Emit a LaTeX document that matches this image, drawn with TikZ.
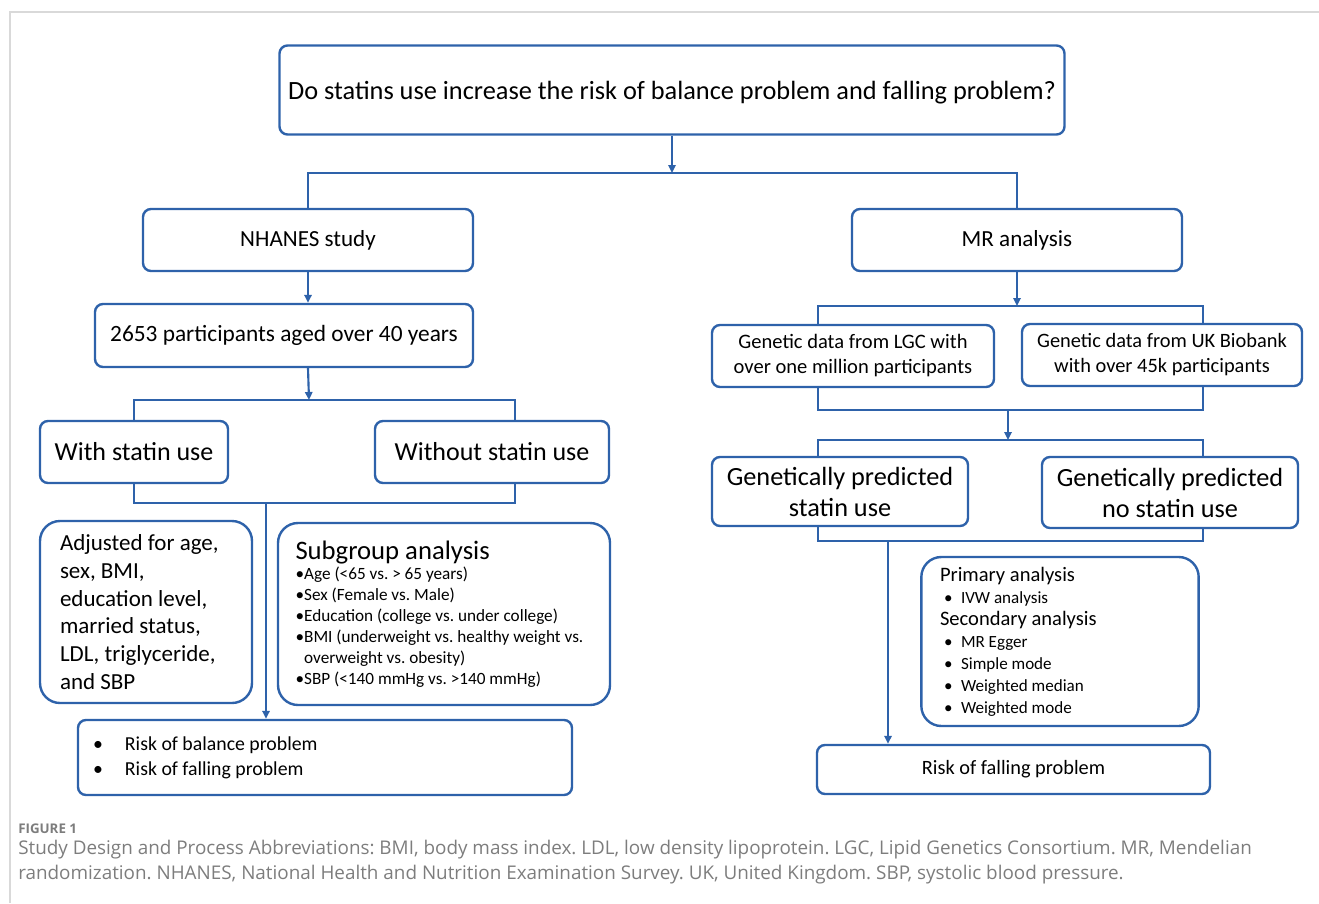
\documentclass[tikz,border=0pt]{standalone}
\usepackage{fontspec}
\setmainfont{Carlito}
\newfontfamily\capfont{Open Sans}
\usetikzlibrary{arrows.meta}
\definecolor{flowblue}{RGB}{46,98,170}
\definecolor{capgray}{RGB}{125,125,125}
\tikzset{%
    box/.style={draw=flowblue, line width=1.8pt, rounded corners=6pt, align=center, inner sep=0pt},
    roundbox/.style={box, rounded corners=15pt, align=flush left, inner xsep=14pt},
    sz/.style 2 args={minimum width=#1*0.75pt, minimum height=#2*0.75pt},
    link/.style={draw=flowblue, line width=1.6pt},
    arrow/.style={link, -{Triangle[length=6pt,width=5.5pt]}},
}
\newcommand{\bul}[1]{\makebox[#1][l]{\textbullet}}
\frenchspacing

\begin{document}
\begin{tikzpicture}[x=0.75pt, y=-0.75pt]

	\useasboundingbox (0,0) rectangle (1319,903);

	% page frame
	\draw[gray!30, line width=1pt] (10,903) -- (10,12) -- (1319,12);

	% question
	\node[box, sz={785}{89}, text depth=0pt, font=\fontsize{19.75}{24}\selectfont] (q) at (672,90)
		{Do statins use increase the risk of balance problem and falling problem?};

	% two branches
	\node[box, sz={330}{62}, font=\fontsize{17.3}{20}\selectfont] (nhanes) at (308,240) {NHANES study};
	\node[box, sz={330}{62}, font=\fontsize{17.3}{20}\selectfont] (mr) at (1017,240) {MR analysis};

	% NHANES side
	\node[box, sz={378}{63}, font=\fontsize{17.5}{20}\selectfont] (part) at (284,335.5)
		{2653 participants aged over 40 years};
	\node[box, sz={188}{62}, font=\fontsize{19.5}{22}\selectfont] (with) at (134,452) {With statin use};
	\node[box, sz={234}{62}, font=\fontsize{19.5}{22}\selectfont] (without) at (492,452) {Without statin use};

	\node[roundbox, inner xsep=15pt, text width=172*0.75pt, sz={212}{182}, font=\fontsize{17.25}{20.8}\selectfont] (adj) at (146,612)
		{Adjusted for age,\\ sex, BMI,\\ education level,\\ married status,\\ LDL, triglyceride,\\ and SBP};
	\node[roundbox, inner xsep=13pt, text width=297*0.75pt, sz={332}{182}, font=\fontsize{12.9}{15.75}\selectfont] (sub) at (444,614)
		{{\fontsize{20}{24}\selectfont Subgroup analysis}\\[-1pt]
		 \bul{6.5pt}Age (<65 vs. > 65 years)\\
		 \bul{6.5pt}Sex (Female vs. Male)\\
		 \bul{6.5pt}Education (college vs. under college)\\
		 \bul{6.5pt}BMI (underweight vs. healthy weight vs.\\
		 \hspace*{6.5pt}overweight vs. obesity)\\
		 \bul{6.5pt}SBP (<140 mmHg vs. >140 mmHg)};

	\node[box, sz={494}{75}, align=flush left, text width=464*0.75pt, font=\fontsize{14.85}{18.75}\selectfont] (riskl) at (325,757.5)
		{\bul{24pt}Risk of balance problem\\ \bul{24pt}Risk of falling problem};

	% MR side
	\node[box, sz={282}{62}, font=\fontsize{15.4}{18.75}\selectfont] (lgc) at (853,356)
		{Genetic data from LGC with\\ over one million participants};
	\node[box, sz={280}{62}, font=\fontsize{15.3}{18.75}\selectfont] (ukb) at (1162,355)
		{Genetic data from UK Biobank\\ with over 45k participants};
	\node[box, sz={256}{69}, font=\fontsize{19.7}{23.25}\selectfont] (gps) at (840,491.5)
		{Genetically predicted\\ statin use};
	\node[box, sz={256}{71}, font=\fontsize{19.7}{23.25}\selectfont] (gpn) at (1170,492.5)
		{Genetically predicted\\ no statin use};

	\node[roundbox, text width=240*0.75pt, sz={276}{169}, font=\fontsize{12.8}{16.5}\selectfont] (ana) at (1060,641.5)
		{{\fontsize{15.4}{16.5}\selectfont Primary analysis}\\
		 \hspace*{3pt}\bul{12.75pt}IVW analysis\\
		 {\fontsize{15.4}{16.5}\selectfont Secondary analysis}\\
		 \hspace*{3pt}\bul{12.75pt}MR Egger\\
		 \hspace*{3pt}\bul{12.75pt}Simple mode\\
		 \hspace*{3pt}\bul{12.75pt}Weighted median\\
		 \hspace*{3pt}\bul{12.75pt}Weighted mode};

	\node[box, sz={393}{49}, font=\fontsize{15.25}{18}\selectfont] (riskr) at (1013.5,769.5) {Risk of falling problem};

	% junctions
	\coordinate (j1) at (672,173);
	\coordinate (j2) at (309,400);
	\coordinate (j3) at (266,503);
	\coordinate (j4) at (1017,306);
	\coordinate (j5) at (1008,410);
	\coordinate (j6) at (1008,440);
	\coordinate (j7) at (888,541);

	% connectors, NHANES side
	\draw[arrow] (q) -- (j1);
	\draw[link] (nhanes) |- (j1) -| (mr);
	\draw[arrow] (nhanes.south) -- (nhanes.south |- part.north);
	\draw[arrow] (part.south -| nhanes.south) -- (j2);
	\draw[link] (with.north) |- (j2) -| ([xshift=17pt]without.north);
	\draw[link] (with.south) |- (j3) -| ([xshift=17pt]without.south);
	\draw[arrow] (j3) -- (j3 |- riskl.north);

	% connectors, MR side
	\draw[arrow] (mr) -- (j4);
	\draw[link] ([xshift=-26.25pt]lgc.north) |- (j4) -| ([xshift=30.75pt]ukb.north);
	\draw[link] ([xshift=-26.25pt]lgc.south) |- (j5) -| ([xshift=30.75pt]ukb.south);
	\draw[arrow] (j5) -- (j6);
	\draw[link] ([xshift=-16.5pt]gps.north) |- (j6) -| ([xshift=24.75pt]gpn.north);
	\draw[link] ([xshift=-16.5pt]gps.south) |- (j7) -| ([xshift=24.75pt]gpn.south);
	\draw[arrow] (j7) -- (j7 |- riskr.north);

	% caption
	\node[anchor=base west, inner sep=0pt, text=capgray, font=\capfont\bfseries\fontsize{10}{12}\selectfont] (figno) at (18,833) {FIGURE 1};
	\node[anchor=north west, align=left, inner sep=0pt, text=capgray, font=\capfont\fontsize{14.15}{18.75}\selectfont] (cap) at (18,840)
		{Study Design and Process Abbreviations: BMI, body mass index. LDL, low density lipoprotein. LGC, Lipid Genetics Consortium. MR, Mendelian\\
		 randomization. NHANES, National Health and Nutrition Examination Survey. UK, United Kingdom. SBP, systolic blood pressure.};

\end{tikzpicture}
\end{document}
